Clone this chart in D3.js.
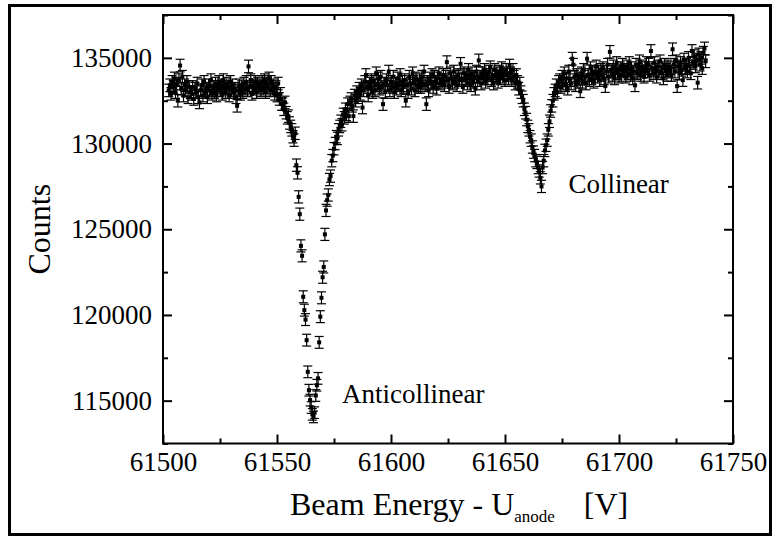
<!DOCTYPE html>
<html>
<head>
<meta charset="utf-8">
<script src="https://cdn.jsdelivr.net/npm/d3@7/dist/d3.min.js"></script>
<style>
	body { margin: 0; background: #fff; }
	svg { display: block; }
</style>
</head>
<body>
<svg class="chart"></svg>
<script>
// energy scan, one point every 0.5 V
var scanStart = 61502.5,
	scanStep = 0.5;

// counts 61502.5 .. 61582 (anticollinear dip)
var countsA = [
	133100, 133400, 132900, 133600, 133300, 133800, 133000, 133500, 132500, 133700, 134550, 133200, 133900, 132800, 133400, 133100, 133600, 132700, 133300, 133000,
	132900, 133300, 132600, 133200, 133000, 133500, 132700, 132400, 133100, 133400, 132800, 133600, 133000, 133200, 132700, 133400, 133100, 133700, 132900, 133300,
	133000, 133500, 132800, 133300, 133600, 133100, 133400, 132900, 133700, 133200, 133000, 133500, 133300, 132800, 133600, 133100, 133400, 133000, 133200, 132700,
	132200, 133100, 133400, 132900, 133300, 133000, 133500, 133200, 133600, 133100, 134500, 133300, 133700, 132900, 133400, 133200, 133600, 133000, 133500, 133300,
	133400, 133100, 133600, 133200, 133700, 133000, 133500, 133300, 133800, 133100, 133600, 133200, 133400, 132900, 133300, 132800, 133500, 132600, 132900, 132300,
	132300, 132000, 132400, 131800, 131500, 131600, 131200, 131000, 130800, 130400, 130200, 130600, 128740, 128290, 126890, 125880, 124030, 123450, 121060, 120280,
	119730, 118530, 116680, 115610, 115030, 114600, 114200, 114050, 114300, 115300, 115900, 116300, 118400, 119900, 121000, 122200, 122800, 124700, 126100, 126700,
	127000, 127900, 128100, 129000, 129300, 129700, 130000, 130400, 130300, 130800, 131000, 131300, 131100, 131700, 131500, 132000, 131700, 132300, 131600, 132400
];

// counts 61582.5 .. 61662
var countsB = [
	132600, 132200, 131600, 132800, 132500, 133000, 132700, 133200, 132900, 133400, 132100, 133100, 133600, 134000, 133300, 132800, 133500, 133200, 133700, 133000,
	133600, 133100, 134100, 133400, 133800, 133200, 133900, 133300, 132300, 133500, 133000, 133700, 133400, 134200, 133100, 133600, 133300, 133900, 133000, 133500,
	133200, 133800, 133400, 134000, 133100, 133600, 133300, 133700, 132500, 133400, 133000, 133900, 133500, 133200, 134100, 133600, 133100, 133800, 133400, 133300,
	133700, 133300, 133900, 133500, 134200, 133400, 132300, 133600, 133100, 133800, 133500, 134000, 133300, 133900, 133600, 133200, 133800, 134100, 133500, 133700,
	133600, 134000, 133400, 133900, 134750, 133700, 133300, 134100, 133800, 133500, 134200, 133600, 133900, 133400, 134000, 133700, 134650, 133800, 133300, 134100,
	133700, 134000, 133500, 134300, 133800, 133400, 134100, 133600, 133900, 133200, 134200, 133700, 134850, 133900, 133500, 134100, 133800, 134300, 133600, 134000,
	133800, 134200, 134450, 133700, 134000, 133500, 134300, 133900, 134100, 133600, 134200, 133800, 134400, 133900, 134100, 133700, 134300, 134000, 133800, 134550,
	134100, 133700, 134300, 133900, 133500, 134000, 133600, 133200, 133500, 133000, 132700, 132500, 132000, 131800, 131400, 131000, 130800, 130400, 130200, 129800
];

// counts 61662.5 .. 61738 (collinear dip)
var countsC = [
	129500, 129300, 129000, 128900, 128600, 128400, 128000, 127500, 128600, 129000, 129600, 129900, 130200, 130800, 131300, 131900, 132200, 132500, 132900, 133100,
	133400, 133000, 133600, 133700, 133300, 133900, 133500, 134100, 133400, 133800, 133200, 134200, 133700, 133500, 134950, 134600, 133900, 133400, 134000, 133600,
	133800, 133050, 134100, 133600, 134300, 133900, 133500, 134950, 134000, 133700, 134400, 133800, 134200, 133600, 134100, 134500, 133900, 134200, 133700, 134300,
	134000, 134400, 133800, 133350, 134200, 134600, 133900, 135350, 134300, 134000, 134500, 133800, 134200, 134700, 134100, 133900, 134400, 134000, 134600, 134200,
	134300, 133900, 134500, 134100, 134700, 134000, 134400, 133800, 134200, 133400, 134600, 134100, 134300, 134800, 134000, 134500, 134200, 133900, 134400, 134700,
	134200, 134600, 134000, 135400, 134400, 134100, 134700, 134300, 133900, 134500, 134200, 134800, 134100, 134400, 133800, 134600, 134300, 134000, 134500, 134200,
	134400, 134000, 135500, 134600, 134200, 134800, 133350, 134500, 134100, 134700, 134300, 133700, 134900, 134400, 134600, 134200, 135000, 134500, 134100, 135400,
	134700, 135100, 134500, 134900, 133550, 135200, 134600, 135000, 134400, 135300, 135550, 134800
];

var xTicks = [61500, 61550, 61600, 61650, 61700, 61750],
	xMinor = [61525, 61575, 61625, 61675, 61725],
	yTicks = [115000, 120000, 125000, 130000, 135000],
	yMinor = [112500, 117500, 122500, 127500, 132500, 137500];

var peakLabels = [
	{text: "Anticollinear", e: 61578.5, c: 114850},
	{text: "Collinear", e: 61677.8, c: 127100}
];

var serif = "'Liberation Serif', 'Times New Roman', Times, serif";

function drawChart() {
	var W = 775, H = 536;
	var left = 163, right = 733, top = 15, bottom = 443.5;

	var data = countsA.concat(countsB, countsC).map(function(c, i) {
		return {e: scanStart + i * scanStep, c: c, err: Math.sqrt(c)};
	});

	var x = d3.scaleLinear()
		.domain([61500, 61750])
		.range([left, right]);

	var y = d3.scaleLinear()
		.domain([112500, 137500])
		.range([bottom, top]);

	var svg = d3.select(".chart")
		.attr("width", W)
		.attr("height", H)
		.style("font-family", serif);

	// outer frame
	svg.append("rect")
		.attr("x", 9.5).attr("y", 5.5)
		.attr("width", 761).attr("height", 529)
		.attr("fill", "none")
		.attr("stroke", "#000")
		.attr("stroke-width", 3);

	function styleAxis(g) {
		g.select(".domain").remove();
		g.selectAll("line").attr("stroke", "#000").attr("stroke-width", 2);
		g.selectAll("text")
			.style("font-family", serif)
			.style("font-size", "27px")
			.attr("fill", "#000");
	}

	// major and minor ticks on all four sides, pointing inwards
	svg.append("g")
		.attr("transform", "translate(0," + bottom + ")")
		.call(d3.axisBottom(x).tickValues(xTicks).tickSize(-9).tickPadding(8).tickFormat(d3.format("d")))
		.call(styleAxis);
	svg.append("g")
		.attr("transform", "translate(0," + bottom + ")")
		.call(d3.axisBottom(x).tickValues(xMinor).tickSize(-5).tickFormat(""))
		.call(styleAxis);
	svg.append("g")
		.attr("transform", "translate(0," + top + ")")
		.call(d3.axisTop(x).tickValues(xTicks).tickSize(-9).tickFormat(""))
		.call(styleAxis);
	svg.append("g")
		.attr("transform", "translate(0," + top + ")")
		.call(d3.axisTop(x).tickValues(xMinor).tickSize(-5).tickFormat(""))
		.call(styleAxis);

	svg.append("g")
		.attr("transform", "translate(" + left + ",0)")
		.call(d3.axisLeft(y).tickValues(yTicks).tickSize(-9).tickPadding(11).tickFormat(d3.format("d")))
		.call(styleAxis);
	svg.append("g")
		.attr("transform", "translate(" + left + ",0)")
		.call(d3.axisLeft(y).tickValues(yMinor).tickSize(-5).tickFormat(""))
		.call(styleAxis);
	svg.append("g")
		.attr("transform", "translate(" + right + ",0)")
		.call(d3.axisRight(y).tickValues(yTicks).tickSize(-9).tickFormat(""))
		.call(styleAxis);
	svg.append("g")
		.attr("transform", "translate(" + right + ",0)")
		.call(d3.axisRight(y).tickValues(yMinor).tickSize(-5).tickFormat(""))
		.call(styleAxis);

	// plot box
	svg.append("rect")
		.attr("x", left).attr("y", top)
		.attr("width", right - left).attr("height", bottom - top)
		.attr("fill", "none")
		.attr("stroke", "#000")
		.attr("stroke-width", 2);

	// error bars
	var bars = svg.append("g")
		.attr("stroke", "#000")
		.attr("stroke-width", 1.2);
	var bar = bars.selectAll(".bar")
		.data(data)
	  .enter().append("g")
		.attr("class", "bar");
	bar.append("line")
		.attr("x1", function(d) { return x(d.e); })
		.attr("x2", function(d) { return x(d.e); })
		.attr("y1", function(d) { return y(d.c - d.err); })
		.attr("y2", function(d) { return y(d.c + d.err); });
	bar.append("line")
		.attr("x1", function(d) { return x(d.e) - 4.5; })
		.attr("x2", function(d) { return x(d.e) + 4.5; })
		.attr("y1", function(d) { return y(d.c + d.err); })
		.attr("y2", function(d) { return y(d.c + d.err); });
	bar.append("line")
		.attr("x1", function(d) { return x(d.e) - 4.5; })
		.attr("x2", function(d) { return x(d.e) + 4.5; })
		.attr("y1", function(d) { return y(d.c - d.err); })
		.attr("y2", function(d) { return y(d.c - d.err); });

	// square markers
	svg.append("g").selectAll(".pt")
		.data(data)
	  .enter().append("rect")
		.attr("class", "pt")
		.attr("x", function(d) { return x(d.e) - 2; })
		.attr("y", function(d) { return y(d.c) - 2; })
		.attr("width", 4)
		.attr("height", 4)
		.attr("fill", "#000");

	// peak labels
	svg.selectAll(".peak")
		.data(peakLabels)
	  .enter().append("text")
		.attr("class", "peak")
		.attr("x", function(d) { return x(d.e); })
		.attr("y", function(d) { return y(d.c); })
		.style("font-size", "27px")
		.text(function(d) { return d.text; });

	// axis titles
	var xt = svg.append("text")
		.attr("x", 290)
		.attr("y", 515)
		.style("font-size", "32px");
	xt.append("tspan").text("Beam Energy - U");
	xt.append("tspan").style("font-size", "17px").attr("dy", 7).text("anode");
	xt.append("tspan").attr("dy", -7).attr("dx", 29).text("[V]");

	svg.append("text")
		.attr("transform", "translate(50," + ((top + bottom) / 2) + ") rotate(-90)")
		.attr("text-anchor", "middle")
		.style("font-size", "32px")
		.text("Counts");
}

drawChart();
</script>
</body>
</html>
